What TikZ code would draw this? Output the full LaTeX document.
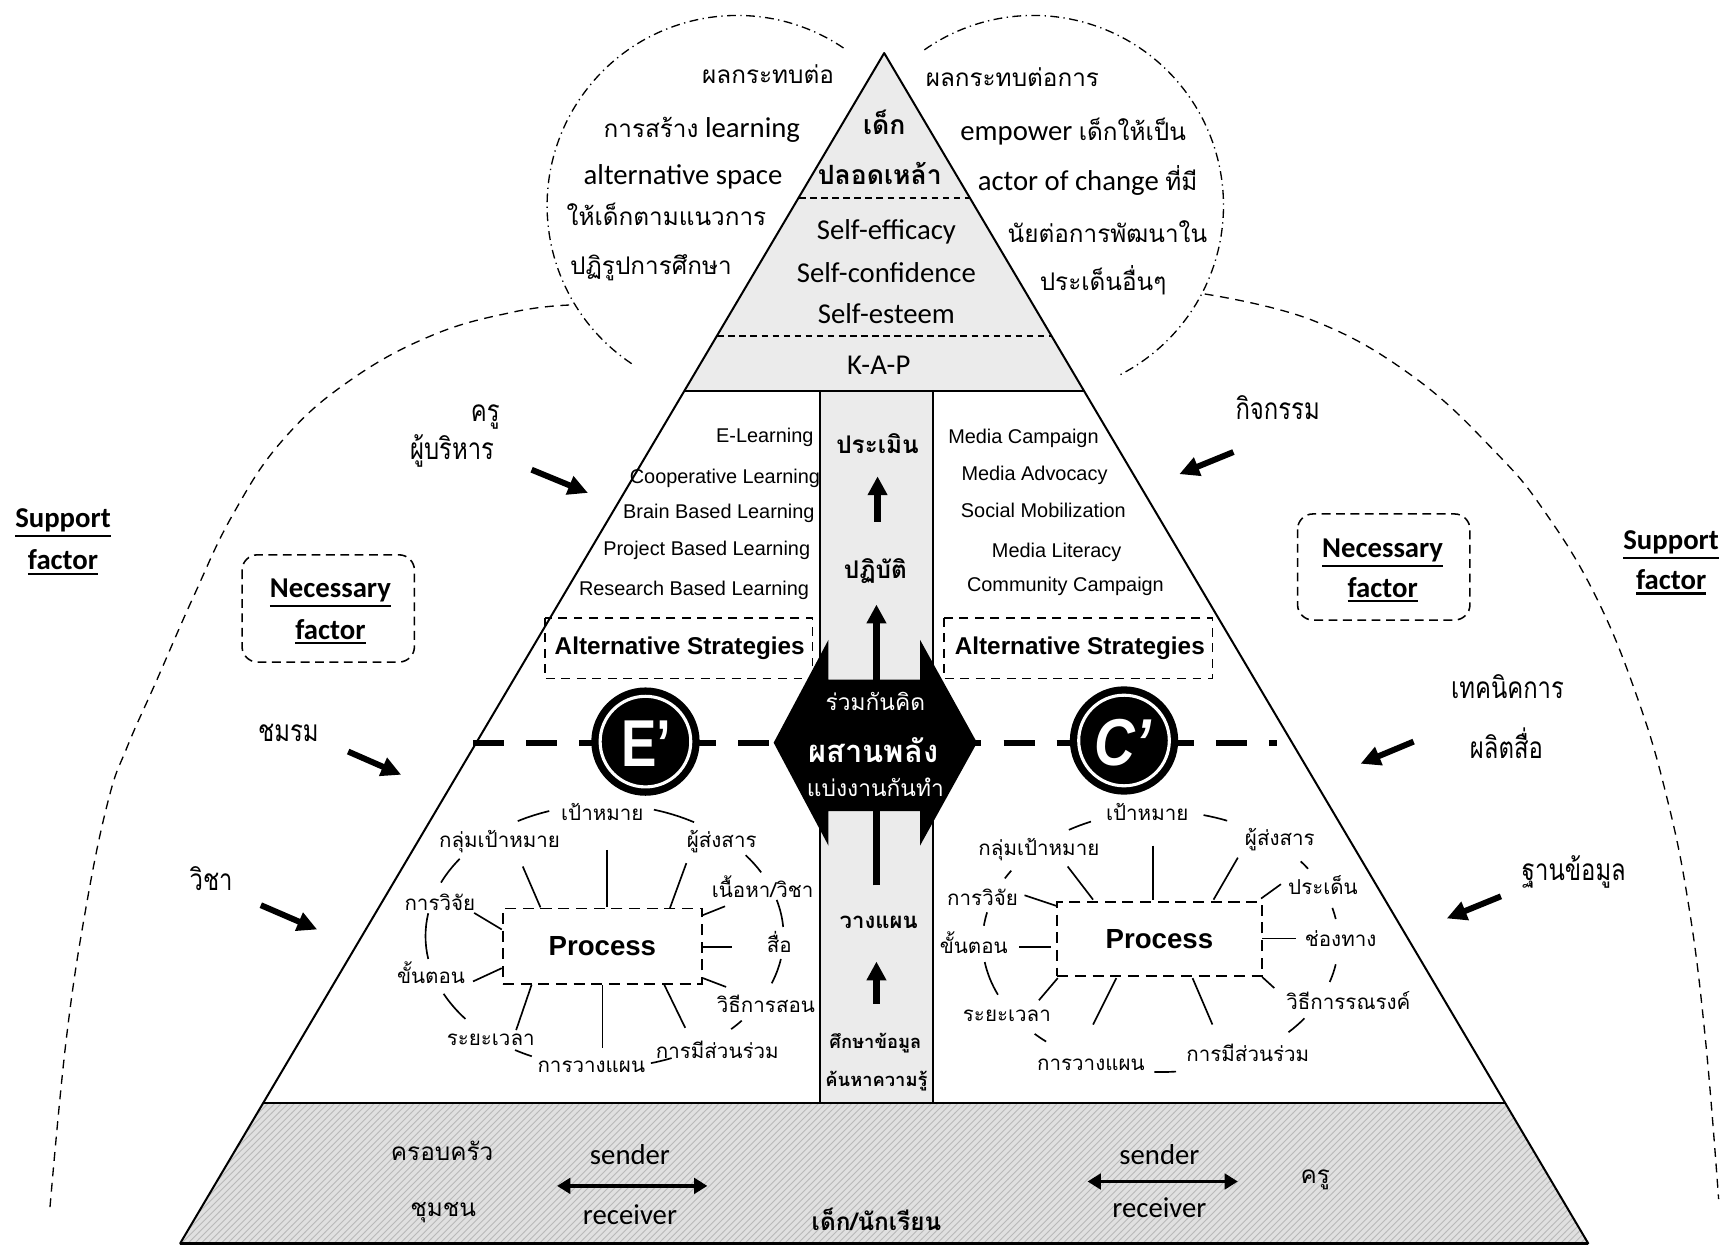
\documentclass[tikz,border=0pt]{standalone}
\usepackage{fontspec}
\setmainfont{Carlito}
\newfontfamily\thai[Script=Thai]{Loma}
\newfontfamily\thaic[Script=Thai, FakeStretch=0.8]{Loma}
\newfontfamily\arial{Liberation Sans}
\usetikzlibrary{arrows.meta,patterns}
\newcommand{\thaiin}[1]{{\thai\fontsize{11}{13}\selectfont #1}}
\newcommand{\ulb}[1]{\vtop{\hbox{#1}\kern1.2pt\hrule height 1pt}}
\begin{document}
\begin{tikzpicture}[x=0.5pt,y=-0.5pt,
  every node/.style={inner sep=0pt, outer sep=0pt},
  th/.style={font=\thai\fontsize{11}{13}\selectfont, text height=6pt, text depth=0pt},
  ths/.style={font=\thaic\fontsize{13.5}{15}\selectfont, text height=7pt, text depth=0pt},
  thp/.style={font=\thai\fontsize{9.3}{11}\selectfont, text height=5pt, text depth=0pt},
  thb/.style={font=\thai\bfseries\fontsize{11}{13}\selectfont, text height=6pt, text depth=0pt},
  thtop/.style={font=\thai\bfseries\fontsize{12}{14}\selectfont, text height=6.5pt, text depth=0pt},
  en/.style={font=\fontsize{13}{15}\selectfont, text height=8.5pt, text depth=0pt},
  ar/.style={font=\arial\fontsize{9}{11}\selectfont, text height=6.4pt, text depth=0pt},
  arb/.style={font=\arial\bfseries\fontsize{11}{13}\selectfont, text height=7.9pt, text depth=0pt},
  sup/.style={font=\bfseries\fontsize{13}{15}\selectfont, text height=8.5pt, text depth=0pt},
  fat/.style={line width=2.7pt, -{Triangle[length=9pt,width=8.5pt]}},
  colarr/.style={line width=3pt, -{Triangle[length=8.5pt,width=8.5pt]}},
  dblarr/.style={line width=1.5pt, {Triangle[length=6pt,width=7pt]}-{Triangle[length=6pt,width=7pt]}},
  spoke/.style={line width=0.75pt},
  dbox/.style={draw, line width=0.9pt, dash pattern=on 5pt off 3pt},
  abox/.style={draw, line width=0.7pt, dash pattern=on 4pt off 3pt},
  nbox/.style={draw, line width=0.7pt, dash pattern=on 4pt off 2.5pt, rounded corners=7pt},
  supline/.style={line width=0.6pt, dash pattern=on 4pt off 3pt},
  dd/.style={line width=0.6pt, dash pattern=on 4pt off 2pt on 0.6pt off 2pt},
]
\fill[white] (0,0) rectangle (1568,1127);
\useasboundingbox (0,0) rectangle (1568,1127);

% ---------- support arcs ----------
\draw[supline] plot[smooth, tension=0.7] coordinates {(515,276) (466,282) (392,303) (317,344) (256,398) (211,465) (175,540) (142,615) (115,676) (98,724) (78,820) (60,940) (45,1095)};
\draw[supline] plot[smooth, tension=0.7] coordinates {(1090,266) (1188,290) (1279,341) (1354,410) (1399,465) (1444,540) (1481,630) (1508,721) (1528,820) (1543,940) (1555,1085)};

% ---------- dash-dot circles ----------
\draw[dd] (667,186) ++(-56:172) arc[start angle=-56, end angle=-237, radius=172];
\draw[dd] (935,186) ++(-125:172) arc[start angle=-125, end angle=64, radius=172];

% ---------- pyramid fills ----------
\fill[gray!16] (800,48) -- (981,354) -- (619,354) -- cycle;
\fill[gray!16] (742,354) rectangle (844,998);
\fill[gray!24] (238,998) -- (1362,998) -- (1437,1125) -- (163,1125) -- cycle;
\fill[pattern=north east lines, pattern color=gray!55] (238,998) -- (1362,998) -- (1437,1125) -- (163,1125) -- cycle;

% ---------- pyramid lines ----------
\draw[line width=0.9pt, line join=round] (800,48) -- (1437,1125) -- (163,1125) -- cycle;
\draw[line width=0.9pt] (619,354) -- (981,354);
\draw[line width=1.2pt] (238,998) -- (1362,998);
\draw[line width=1.6pt] (163,1125) -- (1437,1125);
\draw[line width=0.8pt] (742,354) -- (742,998);
\draw[line width=0.8pt] (844,354) -- (844,998);
\draw[line width=0.7pt, dash pattern=on 3pt off 2pt] (723,179) -- (877,179);
\draw[line width=0.7pt, dash pattern=on 3pt off 2pt] (649,304) -- (951,304);

% ---------- top section ----------
\node[thtop] (t1) at (800,115) {เด็ก};
\node[thtop] (t2) at (796,160) {ปลอดเหล้า};
\node[en] (t3) at (802,208) {Self-efficacy};
\node[en] (t4) at (802,247) {Self-confidence};
\node[en] (t5) at (802,284) {Self-esteem};
\node[en] (t6) at (795,330) {K-A-P};

% ---------- left circle texts ----------
\node[th] (lc1) at (695,70) {ผลกระทบต่อ};
\node[en] (lc2) at (635,116) {\thaiin{การสร้าง} learning};
\node[en] (lc3) at (618,158) {alternative space};
\node[th] (lc4) at (603,198) {ให้เด็กตามแนวการ};
\node[th] (lc5) at (589,242) {ปฏิรูปการศึกษา};

% ---------- right circle texts ----------
\node[th] (rc1) at (916,72) {ผลกระทบต่อการ};
\node[en] (rc2) at (971,119) {empower \thaiin{เด็กให้เป็น}};
\node[en] (rc3) at (984,164) {actor of change \thaiin{ที่มี}};
\node[th] (rc4) at (1002,213) {นัยต่อการพัฒนาใน};
\node[th] (rc5) at (998,257) {ประเด็นอื่นๆ};

% ---------- support / necessary ----------
\node[sup] (sl1) at (57,469) {\ulb{Support}};
\node[sup] (sl2) at (57,507) {\ulb{factor}};
\node[sup] (sr1) at (1512,489) {\ulb{Support}};
\node[sup] (sr2) at (1512,525) {\ulb{factor}};
\draw[nbox] (219,502) rectangle (375,599);
\node[sup] (nl1) at (299,532) {\ulb{Necessary}};
\node[sup] (nl2) at (299,570) {\ulb{factor}};
\draw[nbox] (1174,465) rectangle (1330,561);
\node[sup] (nr1) at (1251,496) {\ulb{Necessary}};
\node[sup] (nr2) at (1251,532) {\ulb{factor}};

% ---------- side labels and arrows ----------
\node[ths] (k1) at (439,374) {ครู};
\node[ths] (k2) at (409,409) {ผู้บริหาร};
\coordinate (a1s) at (481,425); \coordinate (a1e) at (532,446);
\draw[fat] (a1s) -- (a1e);
\node[ths] (k3) at (261,664) {ชมรม};
\coordinate (a2s) at (315,680); \coordinate (a2e) at (363,701);
\draw[fat] (a2s) -- (a2e);
\node[ths] (k4) at (191,799) {วิชา};
\coordinate (a3s) at (236,819); \coordinate (a3e) at (287,841);
\draw[fat] (a3s) -- (a3e);
\node[ths] (k5) at (1156,373) {กิจกรรม};
\coordinate (a4s) at (1116,409); \coordinate (a4e) at (1067,429);
\draw[fat] (a4s) -- (a4e);
\node[ths] (k6) at (1364,625) {เทคนิคการ};
\node[ths] (k7) at (1363,679) {ผลิตสื่อ};
\coordinate (a5s) at (1279,671); \coordinate (a5e) at (1231,691);
\draw[fat] (a5s) -- (a5e);
\node[ths] (k8) at (1424,790) {ฐานข้อมูล};
\coordinate (a6s) at (1358,811); \coordinate (a6e) at (1309,831);
\draw[fat] (a6s) -- (a6e);

% ---------- middle lists ----------
\node[ar, anchor=east] (m1) at (736,394) {E-Learning};
\node[ar, anchor=east] (m2) at (742,431) {Cooperative Learning};
\node[ar, anchor=east] (m3) at (737,463) {Brain Based Learning};
\node[ar, anchor=east] (m4) at (733,496) {Project Based Learning};
\node[ar, anchor=east] (m5) at (732,532) {Research Based Learning};
\node[ar] (n1) at (926,395) {Media Campaign};
\node[ar] (n2) at (936,428) {Media Advocacy};
\node[ar] (n3) at (944,462) {Social Mobilization};
\node[ar] (n4) at (956,498) {Media Literacy};
\node[ar] (n5) at (964,529) {Community Campaign};
\draw[abox] (493,559) rectangle (735,614);
\node[arb] (as1) at (615,584) {Alternative Strategies};
\draw[abox] (854,559) rectangle (1097,614);
\node[arb] (as2) at (977,584) {Alternative Strategies};

% ---------- column ----------
\node[thb] (c1) at (794,404) {ประเมิน};
\coordinate (ca1) at (794,472); \coordinate (ca2) at (794,431);
\draw[colarr] (ca1) -- (ca2);
\node[thb] (c2) at (792,517) {ปฏิบัติ};
\coordinate (cb1) at (793,650); \coordinate (cb2) at (793,547);
\draw[colarr] (cb1) -- (cb2);
\coordinate (cc1) at (793,801); \coordinate (cc2) at (793,720);
\draw[line width=3pt] (cc1) -- (cc2);
\node[thb, font=\thai\bfseries\fontsize{10}{12}\selectfont, text height=5.5pt] (c3) at (795,835) {วางแผน};
\coordinate (cd1) at (793,908); \coordinate (cd2) at (793,870);
\draw[colarr] (cd1) -- (cd2);
\node[thb, font=\thai\bfseries\fontsize{8.3}{10}\selectfont, text height=4.6pt] (c4) at (792,944) {ศึกษาข้อมูล};
\node[thb, font=\thai\bfseries\fontsize{8.3}{10}\selectfont, text height=4.6pt] (c5) at (793,978) {ค้นหาความรู้};

% ---------- thick dashed axis ----------
\coordinate (axl) at (428,672); \coordinate (axr) at (1155,672);
\draw[line width=2.7pt, dash pattern=on 14pt off 10pt] (axl) -- (axr);

% ---------- E' and C' ----------
\node[circle, fill=black, minimum size=49pt] (Ec) at (584,671) {};
\draw[white, line width=1.4pt] (Ec.center) circle[radius=41];
\node[text=white, font=\arial\bfseries\fontsize{30}{30}\selectfont] (Et) at (585,673) {\scalebox{0.8}[1]{E’}};
\node[circle, fill=black, minimum size=49pt] (Cc) at (1017,670) {};
\draw[white, line width=1.4pt] (Cc.center) circle[radius=41];
\node[text=white, font=\arial\bfseries\itshape\fontsize{30}{30}\selectfont] (Ct) at (1016,672) {\scalebox{0.85}[1]{C’}};

% ---------- hexagon ----------
\fill[black] (700,672) -- (749.5,579) -- (749.5,615) -- (832.5,615) -- (832.5,579) -- (884,672) -- (832.5,765) -- (832.5,734) -- (749.5,734) -- (749.5,765) -- cycle;
\node[th, text=white, font=\thai\fontsize{10.3}{12}\selectfont] (h1) at (792,637) {ร่วมกันคิด};
\node[thb, text=white, font=\thai\bfseries\fontsize{14}{16}\selectfont, text height=7.5pt] (h2) at (790,682) {ผสานพลัง};
\node[th, text=white, font=\thai\fontsize{10.3}{12}\selectfont] (h3) at (792,715) {แบ่งงานกันทำ};

% ---------- left process ----------
\node[dbox, minimum width=90pt, minimum height=34pt, font=\arial\bfseries\fontsize{12.5}{14}\selectfont] (PL) at (545,856) {Process};
\foreach \a/\b in {-119/-108, -74/-60, -156/-144, -38/-29, -16/-4, 170/190, 10/21, 141/154, 40/45, 114/120, 68/75}
  \draw[spoke] (547,847) ++(\a:162 and 119) arc[start angle=\a, end angle=\b, x radius=162, y radius=119];
\draw[spoke] (549,769) -- (549,821);
\draw[spoke] (473,784) -- (489,821);
\draw[spoke] (621,781) -- (606,822);
\draw[spoke] (656,820) -- (636,828);
\draw[spoke] (636,857) -- (662,857);
\draw[spoke] (636,885) -- (657,893);
\draw[spoke] (601,891) -- (620,930);
\draw[spoke] (545,891) -- (545,948);
\draw[spoke] (481,891) -- (467,932);
\draw[spoke] (428,888) -- (454,876);
\draw[spoke] (429,826) -- (454,841);
\node[thp] (L1) at (545,737) {เป้าหมาย};
\node[thp] (L2) at (452,762) {กลุ่มเป้าหมาย};
\node[thp] (L3) at (653,762) {ผู้ส่งสาร};
\node[thp] (L4) at (690,807) {เนื้อหา/วิชา};
\node[thp] (L5) at (398,819) {การวิจัย};
\node[thp] (L6) at (705,857) {สื่อ};
\node[thp] (L7) at (390,885) {ขั้นตอน};
\node[thp] (L8) at (693,911) {วิธีการสอน};
\node[thp] (L9) at (444,941) {ระยะเวลา};
\node[thp] (L10) at (649,953) {การมีส่วนร่วม};
\node[thp] (L11) at (535,965) {การวางแผน};

% ---------- right process ----------
\node[dbox, minimum width=92.5pt, minimum height=33.5pt, font=\arial\bfseries\fontsize{12.5}{14}\selectfont] (PR) at (1049,850) {Process};
\foreach \a/\b in {-121/-113, -76/-68, -151/-147, -38/-34, 187/193, -15/-10, 156/171, 10/18, 36/44, 130/135, 85/92}
  \draw[spoke] (1050,852) ++(\a:161 and 118) arc[start angle=\a, end angle=\b, x radius=161, y radius=118];
\draw[spoke] (1043,765) -- (1043,814);
\draw[spoke] (966,784) -- (989,814);
\draw[spoke] (1120,776) -- (1098,814);
\draw[spoke] (1159,800) -- (1141,813);
\draw[spoke] (1142,849) -- (1173,849);
\draw[spoke] (1142,884) -- (1153,894);
\draw[spoke] (1079,885) -- (1097,927);
\draw[spoke] (1010,885) -- (989,927);
\draw[spoke] (957,885) -- (940,905);
\draw[spoke] (922,857) -- (951,857);
\draw[spoke] (927,810) -- (957,820);
\node[thp] (R1) at (1038,737) {เป้าหมาย};
\node[thp] (R2) at (940,769) {กลุ่มเป้าหมาย};
\node[thp] (R3) at (1158,760) {ผู้ส่งสาร};
\node[thp] (R4) at (1197,804) {ประเด็น};
\node[thp] (R5) at (889,814) {การวิจัย};
\node[thp] (R6) at (1213,851) {ช่องทาง};
\node[thp] (R7) at (881,858) {ขั้นตอน};
\node[thp] (R8) at (1220,908) {วิธีการรณรงค์};
\node[thp] (R9) at (911,919) {ระยะเวลา};
\node[thp] (R10) at (1129,955) {การมีส่วนร่วม};
\node[thp] (R11) at (987,964) {การวางแผน};

% ---------- base ----------
\node[th] (b1) at (400,1044) {ครอบครัว};
\node[th] (b2) at (401,1095) {ชุมชน};
\node[en] (b3) at (570,1045) {sender};
\node[en] (b4) at (570,1099) {receiver};
\draw[dblarr] (504,1073) -- (640,1073);
\node[thb] (b5) at (793,1107) {เด็ก/นักเรียน};
\node[en] (b6) at (1049,1045) {sender};
\node[en] (b7) at (1049,1093) {receiver};
\draw[dblarr] (984,1069) -- (1120,1069);
\node[th] (b8) at (1190,1065) {ครู};
\end{tikzpicture}
\end{document}
